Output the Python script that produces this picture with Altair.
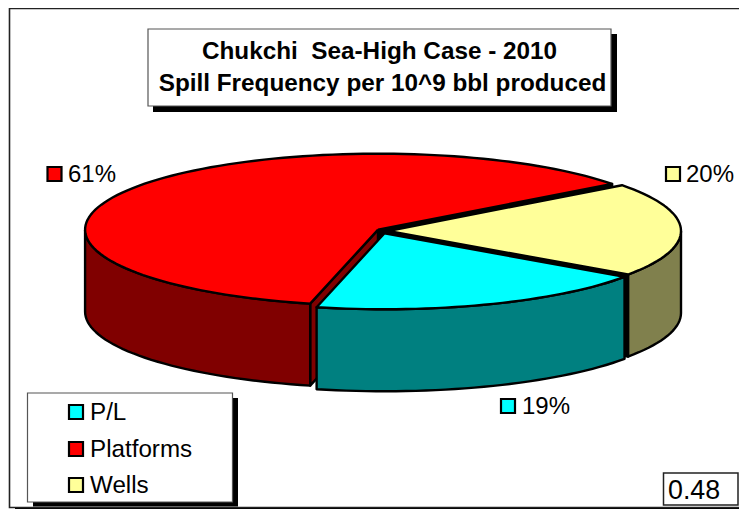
import math
import altair as alt
import pandas as pd

# ---- data ----
categories = ["P/L", "Platforms", "Wells"]
shares = [19, 61, 20]
label_text = ["19%", "61%", "20%"]
title_lines = ["Chukchi\u00a0 Sea-High Case - 2010", "Spill Frequency per 10^9 bbl produced"]
note_value = "0.48"

# ---- colours ----
TOP = {"P/L": "#00FFFF", "Platforms": "#FF0000", "Wells": "#FFFF99"}
SIDE = {"P/L": "#008080", "Platforms": "#800000", "Wells": "#80804D"}

# ---- page layout (image pixels) ----
W, H = 731, 501
XS = alt.Scale(domain=[8, 8 + W], nice=False, zero=False)
YS = alt.Scale(domain=[8 + H, 8], nice=False, zero=False)
FONT = "Liberation Sans"

# ---- exploded pie geometry ----
CX, CY, RX, RY, DEPTH, EXPLODE = 382.6, 231.0, 293.0, 76.0, 82.0, 5.4
START_DEG = 37.0

# clockwise from the start angle: Wells, P/L, Platforms
spans = {}
a = START_DEG
for name in ["Wells", "P/L", "Platforms"]:
    sweep = shares[categories.index(name)] * 3.6
    spans[name] = (a, a - sweep)
    a -= sweep


def apex(name):
    a0, a1 = spans[name]
    mid = math.radians((a0 + a1) / 2)
    return CX + EXPLODE * math.cos(mid), CY - EXPLODE * math.sin(mid) * 0.45


def rim(name, deg, drop=0.0):
    ax, ay = apex(name)
    t = math.radians(deg)
    return ax + RX * math.cos(t), ay - RY * math.sin(t) + drop


def arc(name, a0, a1, drop=0.0, step=2.0):
    n = max(2, int(abs(a1 - a0) / step) + 1)
    return [rim(name, a0 + (a1 - a0) * k / n, drop) for k in range(n + 1)]


def shape(points, fill, stroke="black", width=2.4):
    pts = list(points) + [points[0]]
    df = pd.DataFrame({"x": [p[0] for p in pts], "y": [p[1] for p in pts], "i": range(len(pts))})
    return alt.Chart(df).mark_line(
        fill=fill, stroke=stroke, strokeWidth=width, strokeJoin="round", interpolate="linear"
    ).encode(
        x=alt.X("x:Q", scale=XS, axis=None),
        y=alt.Y("y:Q", scale=YS, axis=None),
        order="i:Q",
    )


def top(name):
    a0, a1 = spans[name]
    return shape([apex(name)] + arc(name, a0, a1), TOP[name])


def wall(name, a0, a1):
    return shape(arc(name, a0, a1) + arc(name, a1, a0, DEPTH), SIDE[name])


def cut(name, deg, fill=None):
    ax, ay = apex(name)
    return shape([(ax, ay), rim(name, deg), rim(name, deg, DEPTH), (ax, ay + DEPTH)], fill or SIDE[name])


def rect(x0, y0, x1, y1, fill, stroke=None, width=1.0):
    df = pd.DataFrame({"x": [x0], "x2": [x1], "y": [y0], "y2": [y1]})
    kw = dict(fill=fill)
    if stroke:
        kw.update(stroke=stroke, strokeWidth=width)
    return alt.Chart(df).mark_rect(**kw).encode(
        x=alt.X("x:Q", scale=XS, axis=None), x2="x2:Q",
        y=alt.Y("y:Q", scale=YS, axis=None), y2="y2:Q",
    )


def text(label, x, y, size, align="left", bold=False):
    df = pd.DataFrame({"x": [x], "y": [y], "t": [label]})
    return alt.Chart(df).mark_text(
        font=FONT, fontSize=size, align=align, baseline="alphabetic",
        fontWeight="bold" if bold else "normal", color="black",
    ).encode(
        x=alt.X("x:Q", scale=XS, axis=None),
        y=alt.Y("y:Q", scale=YS, axis=None),
        text="t:N",
    )


def swatch(x, y, name):
    df = pd.DataFrame({"x": [x], "y": [y]})
    return alt.Chart(df).mark_square(
        size=196, fill=TOP[name], stroke="black", strokeWidth=2.2, opacity=1
    ).encode(
        x=alt.X("x:Q", scale=XS, axis=None),
        y=alt.Y("y:Q", scale=YS, axis=None),
    )


layers = [
    # outer frame and its shadow (page edge limits how far down it can go)
    rect(15, 507, 760, 520, "black"),
    rect(9.5, 8.5, 760, 507.5, "white", "#222222", 1.6),
    # title box
    rect(153, 34, 617, 112, "black"),
    rect(148, 29, 611, 106, "white", "#555555", 1.2),
    # pie: back to front
    cut("Platforms", spans["Platforms"][0]),
    cut("Platforms", spans["Platforms"][1], "black"),
    wall("Platforms", -180, spans["P/L"][1]),
    wall("Wells", 0, spans["Wells"][1]),
    cut("Wells", spans["Wells"][1], "black"),
    wall("P/L", spans["P/L"][0], spans["P/L"][1]),
    top("Platforms"),
    top("P/L"),
    top("Wells"),
    # slice labels
    swatch(54.5, 174, "Platforms"),
    text(label_text[1], 68, 182, 24),
    swatch(673, 174, "Wells"),
    text(label_text[2], 686, 182, 24),
    swatch(508, 406, "P/L"),
    text(label_text[0], 522, 414, 24),
    # legend
    rect(33, 398, 238, 506.5, "black"),
    rect(27.5, 393, 232.5, 502, "white", "#555555", 1.2),
    swatch(76, 412, "P/L"),
    text(categories[0], 90, 420, 24.2),
    swatch(76, 449, "Platforms"),
    text(categories[1], 90, 457, 24.2),
    swatch(76, 485, "Wells"),
    text(categories[2], 90, 493, 24.2),
    # note box
    rect(663.5, 473, 738, 505, "white", "#222222", 1.5),
    text(note_value, 668, 499, 26.8),
    # title
    text(title_lines[0], 379.5, 59, 24.3, "center", True),
    text(title_lines[1], 382.5, 91, 24.3, "center", True),
]

chart = alt.layer(*layers).properties(
    width=W, height=H, padding=0, background="white",
    autosize=alt.AutoSizeParams(type="none"),
).configure_view(stroke=None)

chart.save("out.html", embed_options={"renderer": "svg", "actions": False})
